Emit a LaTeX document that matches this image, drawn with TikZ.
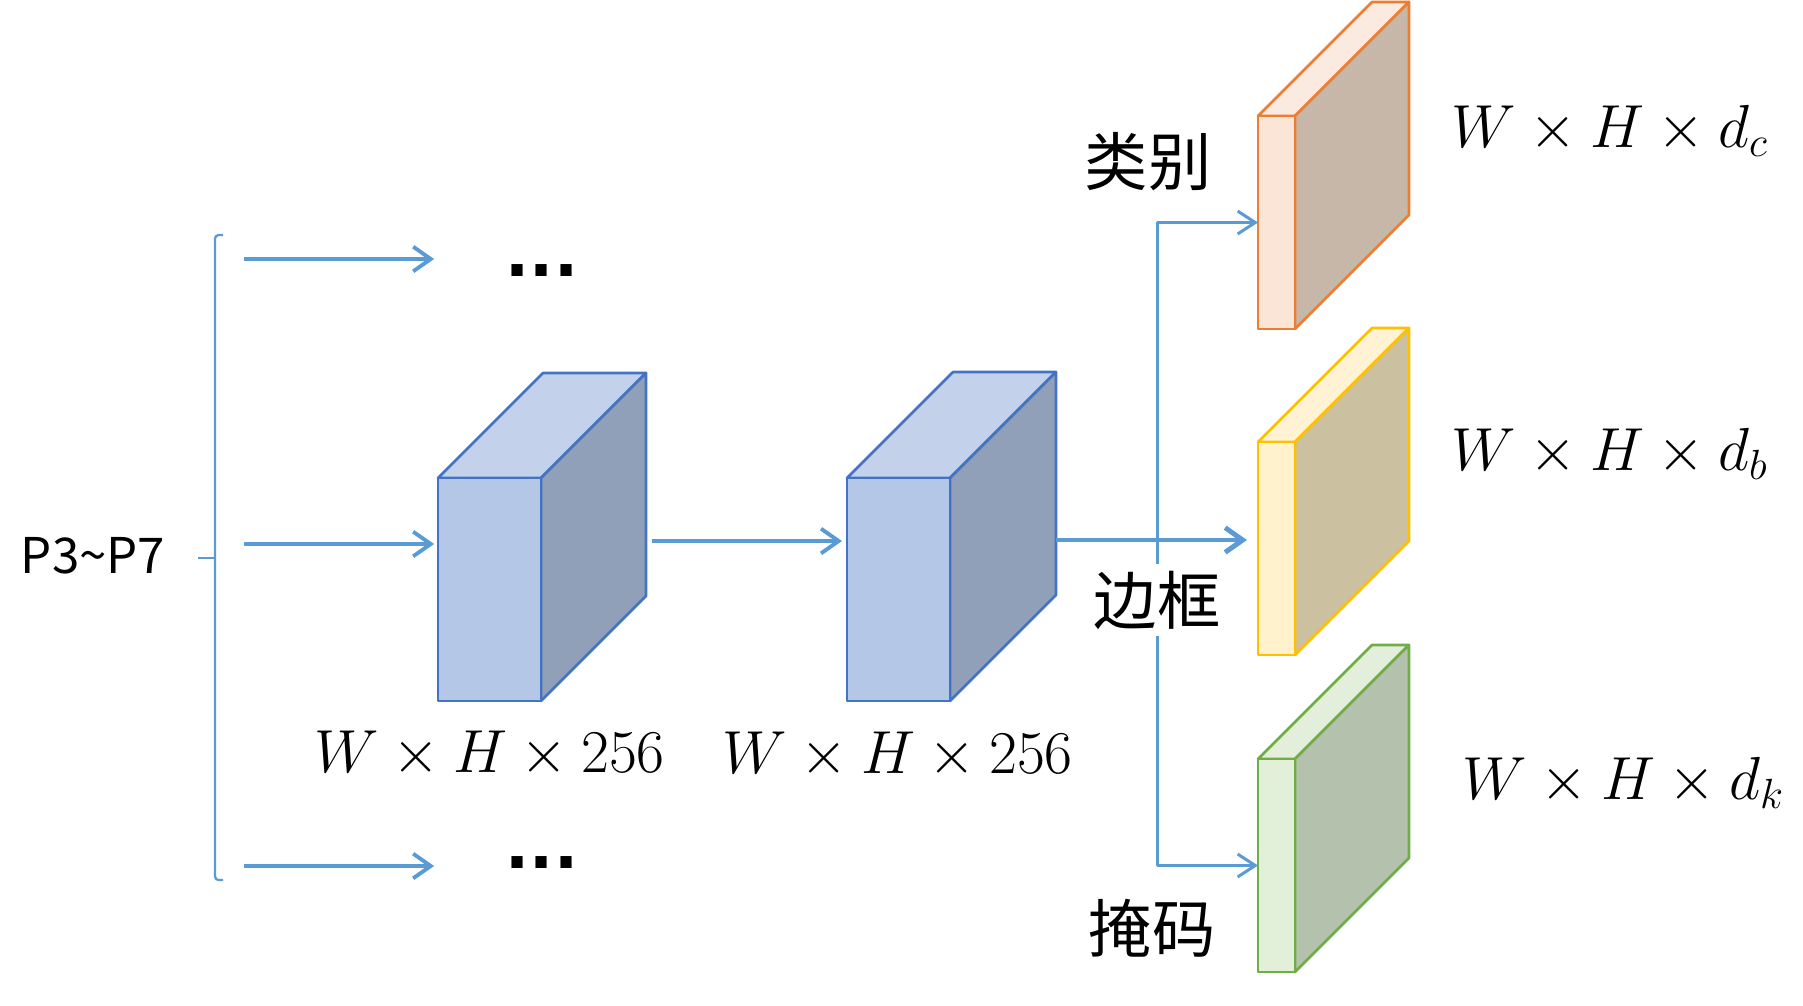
\documentclass[tikz,border=0pt]{standalone}
\usepackage{amsmath}
\usepackage{fontspec}
\usetikzlibrary{arrows.meta}
\newfontfamily\cjk{Noto Sans CJK SC}
\newfontfamily\dotfont{DejaVu Sans}
\definecolor{arrblue}{HTML}{5B9BD5}
\definecolor{blueedge}{HTML}{4472C4}
\definecolor{bluefront}{HTML}{B4C7E7}
\definecolor{bluetop}{HTML}{C3D2EA}
\definecolor{blueside}{HTML}{8FA0B8}
\definecolor{orangeedge}{HTML}{ED7D31}
\definecolor{orangefront}{HTML}{FBE5D6}
\definecolor{orangetop}{HTML}{FBEADF}
\definecolor{orangeside}{HTML}{C7B7A9}
\definecolor{yellowedge}{HTML}{FFC000}
\definecolor{yellowfront}{HTML}{FFF2CC}
\definecolor{yellowtop}{HTML}{FFF3D4}
\definecolor{yellowside}{HTML}{CBC1A1}
\definecolor{greenedge}{HTML}{70AD47}
\definecolor{greenfront}{HTML}{E2F0D9}
\definecolor{greentop}{HTML}{E3EFDB}
\definecolor{greenside}{HTML}{B4C1AD}
% #1 name, #2 x, #3 y (front top left), #4 width, #5 height, #6 depth, #7 colour set
\newcommand{\featbox}[7]{%
\filldraw[draw=#7edge, fill=#7top] (#2,#3) -- ++(#6,-#6) -- ++(#4,0) -- ++(-#6,#6) -- cycle;
\filldraw[draw=#7edge, fill=#7side] (#2+#4,#3) -- ++(#6,-#6) -- ++(0,#5) -- ++(-#6,#6) -- cycle;
\node[draw=#7edge, fill=#7front, anchor=north west, inner sep=0pt, outer sep=0pt,
  minimum width=#4*0.01cm, minimum height=#5*0.01cm] (#1) at (#2,#3) {};
}
\tikzset{
  arr/.style={draw=arrblue, line width=1.1pt, -{Straight Barb[length=5pt,width=7pt]}},
  brarr/.style={draw=arrblue, line width=0.85pt, -{Straight Barb[length=5pt,width=6.5pt]}},
  brk/.style={draw=arrblue, line width=0.65pt},
  dimlab/.style={anchor=base west, inner sep=0pt, font=\fontsize{18}{22}\selectfont},
  headlab/.style={font=\cjk\fontsize{18}{22}\selectfont, inner sep=2pt},
}

\begin{document}
\begin{tikzpicture}[x=0.01cm, y=-0.01cm, line join=round, line width=0.75pt]
\useasboundingbox (0,0) rectangle (1803,1005);
% feature maps
\featbox{c1}{438}{478}{103}{223}{105}{blue}
\featbox{c2}{847}{478}{103}{223}{106}{blue}
\featbox{cc}{1258}{116}{37}{213}{114}{orange}
\featbox{cb}{1258}{442}{37}{213}{114}{yellow}
\featbox{ck}{1258}{759}{37}{213}{114}{green}
%
\node[font=\cjk\fontsize{14}{17}\selectfont] (p) at (93,556) {P3\textasciitilde P7};
\coordinate (bt) at (215,235);
\coordinate (bb) at (215,880);
\coordinate (bm) at (215,558);
\draw[brk, rounded corners=1pt] ([xshift=2.3pt]bt) -- (bt) -- (bb) -- ([xshift=2.3pt]bb);
\draw[brk] (bm) -- ++(-17,0);
\foreach \y/\n in {259/1,544/2,866/3}{
\coordinate (in\n) at (244,\y);
\draw[arr, shorten >=1.1pt] (in\n) -- (in\n -| c1.west);
}
\node[font=\dotfont\bfseries\fontsize{18}{20}\selectfont, inner sep=0pt] (dt) at (542,271) {...};
\node[font=\dotfont\bfseries\fontsize{18}{20}\selectfont, inner sep=0pt] (db) at (542,862) {...};
%
\draw[arr] ([shift={(111,63)}]c1.north east) -- ([shift={(-5,63)}]c2.north west);
\coordinate (sp) at (1157,540);
\draw[brarr] (sp) |- (cc.west);
\draw[brarr] (sp) |- (ck.west);
\draw[arr, line width=1.4pt] ([shift={(106,62)}]c2.north east) -- ([shift={(-11,98)}]cb.north west);
%
\node[headlab] (hc) at (1148,162) {类别};
\node[headlab, fill=white] (hb) at (1157,600) {边框};
\node[headlab] (hk) at (1152,928) {掩码};
%
\node[dimlab] (l1) at (313,772) {$W\times H\times 256$};
\node[dimlab] (l2) at (721,773) {$W\times H\times 256$};
\node[dimlab] (lc) at (1450,147) {$W\times H\times d_c$};
\node[dimlab] (lb) at (1450,470) {$W\times H\times d_b$};
\node[dimlab] (lk) at (1461,799) {$W\times H\times d_k$};
\end{tikzpicture}
\end{document}
